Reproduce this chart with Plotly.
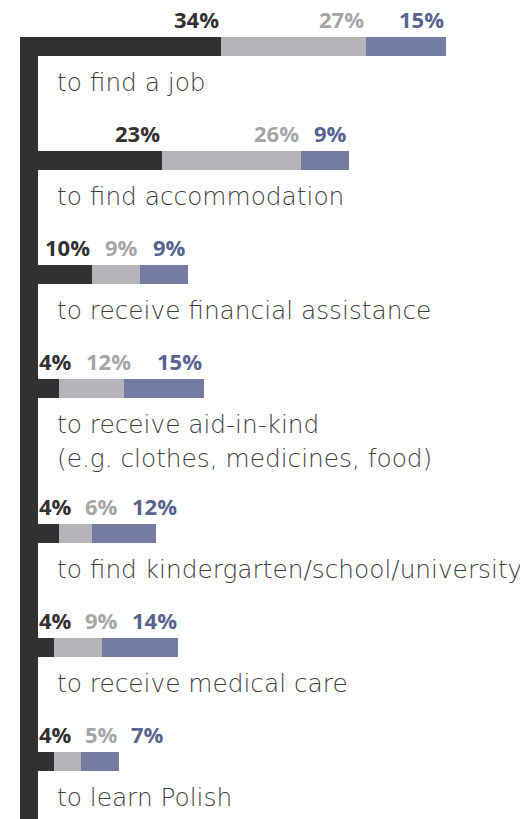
import plotly.graph_objects as go

# reasons, top to bottom
categories = [
    'to find a job',
    'to find accommodation',
    'to receive financial assistance',
    'to receive aid-in-kind<br>(e.g. clothes, medicines, food)',
    'to find kindergarten/school/university',
    'to receive medical care',
    'to learn Polish',
]
# bar lengths (%)
dark_vals = [34, 23, 10, 4, 4, 3, 3]
grey_vals = [27, 26, 9, 12, 6, 9, 5]
blue_vals = [15, 9, 9, 15, 12, 14, 7]
# printed labels
dark_labels = ['34%', '23%', '10%', '4%', '4%', '4%', '4%']
grey_labels = ['27%', '26%', '9%', '12%', '6%', '9%', '5%']
blue_labels = ['15%', '9%', '9%', '15%', '12%', '14%', '7%']

DARK = '#323031'
GREY = '#b4b5b9'
BLUE = '#747ca3'
# page has an 8px body margin, so the figure is 8px smaller than the window
W, H = 520, 811
ZERO_PX = 30
PX_PER_PCT = 5.37

# row centres (pixel units, y axis reversed), extra space for two-line labels
ys = []
y = 38.5
for cat in categories:
    ys.append(y)
    y += 114 + 31 * cat.count('<br>')

fig = go.Figure()
for vals, col, name in [(dark_vals, DARK, 'a'), (grey_vals, GREY, 'b'), (blue_vals, BLUE, 'c')]:
    fig.add_trace(go.Bar(x=vals, y=ys, orientation='h', width=19,
                         marker=dict(color=col, line=dict(width=0)), name=name,
                         hoverinfo='skip'))


def label_w(txt):
    # rough pixel width of bold label
    return 13 * (len(txt) - 1) + 20


label_cols = ['#333132', '#a6a6a9', '#59638f']
for i, yc in enumerate(ys):
    segs = [dark_vals[i], grey_vals[i], blue_vals[i]]
    labs = [dark_labels[i], grey_labels[i], blue_labels[i]]
    cum = 0
    prev_right = ZERO_PX - 10
    for seg, lab, col in zip(segs, labs, label_cols):
        cum += seg
        end_px = ZERO_PX + cum * PX_PER_PCT
        w = label_w(lab)
        left = max(end_px - w, prev_right + 13, ZERO_PX + 3)
        right = left + w
        prev_right = right
        fig.add_annotation(x=right / W, xref='paper', y=yc - 28, yref='y',
                           text='<b>' + lab + '</b>', showarrow=False,
                           xanchor='right', yanchor='middle',
                           font=dict(family='Open Sans', size=22, color=col))
    for k, line in enumerate(categories[i].split('<br>')):
        fig.add_annotation(x=(ZERO_PX + 17) / W, xref='paper', y=yc + 36 + 34 * k, yref='y',
                           text=line, showarrow=False, align='left',
                           xanchor='left', yanchor='middle',
                           font=dict(family='DejaVu Sans', size=24.8, color='#3e3e3e', weight=200))

# thick left rule
fig.add_shape(type='rect', xref='paper', yref='y', x0=12 / W, x1=ZERO_PX / W,
              y0=ys[0] - 9.5, y1=H, fillcolor=DARK, line=dict(width=0), layer='above')

fig.update_layout(
    barmode='stack', width=W, height=H, showlegend=False,
    margin=dict(l=0, r=0, t=0, b=0),
    paper_bgcolor='white', plot_bgcolor='white',
    xaxis=dict(range=[-ZERO_PX / PX_PER_PCT, (W - ZERO_PX) / PX_PER_PCT],
               visible=False, fixedrange=True),
    yaxis=dict(range=[H, 0], visible=False, fixedrange=True),
)
fig.write_html('out.html')
